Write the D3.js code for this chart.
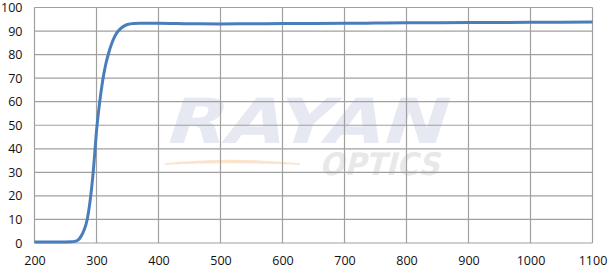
<!DOCTYPE html>
<html>
<head>
<meta charset="utf-8">
<script src="https://cdn.jsdelivr.net/npm/d3@7"></script>
<style>
  body { margin: 0; background: #fff; }
  svg { display: block; }
</style>
</head>
<body>
<script>
var wavelength = [200, 220, 240, 260, 265, 270, 275, 280, 285, 290, 295, 300, 305, 310, 315, 320, 325, 330, 335, 340, 345, 350, 360, 370, 400, 450, 500, 550, 600, 700, 800, 900, 1000, 1100];
var transmission = [0.4, 0.4, 0.4, 0.5, 0.7, 1.2, 2.8, 5.5, 10, 18.5, 31, 47.5, 59.5, 69, 76, 81, 85, 88, 90, 91.3, 92.2, 92.8, 93.2, 93.3, 93.3, 93.1, 93.0, 93.1, 93.2, 93.3, 93.5, 93.6, 93.7, 93.8];
var xTicks = [200, 300, 400, 500, 600, 700, 800, 900, 1000, 1100];
var yTicks = [0, 10, 20, 30, 40, 50, 60, 70, 80, 90, 100];

var width = 612, height = 275;
var margin = {left: 34.5, right: 19.5, top: 7.5, bottom: 32};

var svg = d3.select('body').append('svg')
    .attr('width', width)
    .attr('height', height);

var x = d3.scaleLinear().domain([200, 1100]).range([margin.left, width - margin.right]);
var y = d3.scaleLinear().domain([0, 100]).range([height - margin.bottom, margin.top]);

// watermark
var wm = svg.append('g');
wm.append('text')
    .attr('x', 163).attr('y', 143)
    .attr('transform', 'skewX(-18) translate(46,0)')
    .attr('font-family', 'DejaVu Sans')
    .attr('font-weight', 'bold')
    .attr('font-size', 62)
    .attr('textLength', 280)
    .attr('lengthAdjust', 'spacingAndGlyphs')
    .attr('fill', '#e6e8f2')
    .text('RAYAN');
wm.append('text')
    .attr('x', 320).attr('y', 175)
    .attr('transform', 'skewX(-14) translate(43,0)')
    .attr('font-family', 'DejaVu Sans')
    .attr('font-weight', 'bold')
    .attr('font-size', 31)
    .attr('textLength', 120)
    .attr('lengthAdjust', 'spacingAndGlyphs')
    .attr('fill', '#e8e8e8')
    .text('OPTICS');
wm.append('path')
    .attr('d', 'M165,164 Q230,157 300,164 Q230,161 165,164 Z')
    .attr('fill', '#fbe3cc')
    .attr('stroke', '#fbe3cc')
    .attr('stroke-width', 1.5);

// grid
var grid = svg.append('g').attr('stroke', '#a0a0a0').attr('stroke-width', 1.2);
grid.selectAll('.hy').data(yTicks).enter().append('line')
    .attr('x1', x(200)).attr('x2', x(1100))
    .attr('y1', (d) => y(d)).attr('y2', (d) => y(d));
grid.selectAll('.vx').data(xTicks).enter().append('line')
    .attr('y1', y(0)).attr('y2', y(100))
    .attr('x1', (d) => x(d)).attr('x2', (d) => x(d));

// axes labels
var xAxis = d3.axisBottom(x).tickValues(xTicks).tickFormat(d3.format('d')).tickSize(0).tickPadding(13);
var gx = svg.append('g').attr('transform', `translate(0,${y(0)})`).call(xAxis);
var yAxis = d3.axisLeft(y).tickValues(yTicks).tickFormat(d3.format('d')).tickSize(0).tickPadding(12);
var gy = svg.append('g').attr('transform', `translate(${x(200)},0)`).call(yAxis);
[gx, gy].forEach((g) => {
    g.select('.domain').remove();
    g.selectAll('text')
        .attr('font-family', '"Open Sans", sans-serif')
        .attr('font-size', 12.5)
        .attr('fill', '#111');
});

// curve
var line = d3.line()
    .x((d, i) => x(wavelength[i]))
    .y((d) => y(d))
    .curve(d3.curveMonotoneX);
svg.append('path')
    .datum(transmission)
    .attr('d', line)
    .attr('fill', 'none')
    .attr('stroke', '#4a7ebb')
    .attr('stroke-width', 3)
    .attr('stroke-linejoin', 'round');
</script>
</body>
</html>
